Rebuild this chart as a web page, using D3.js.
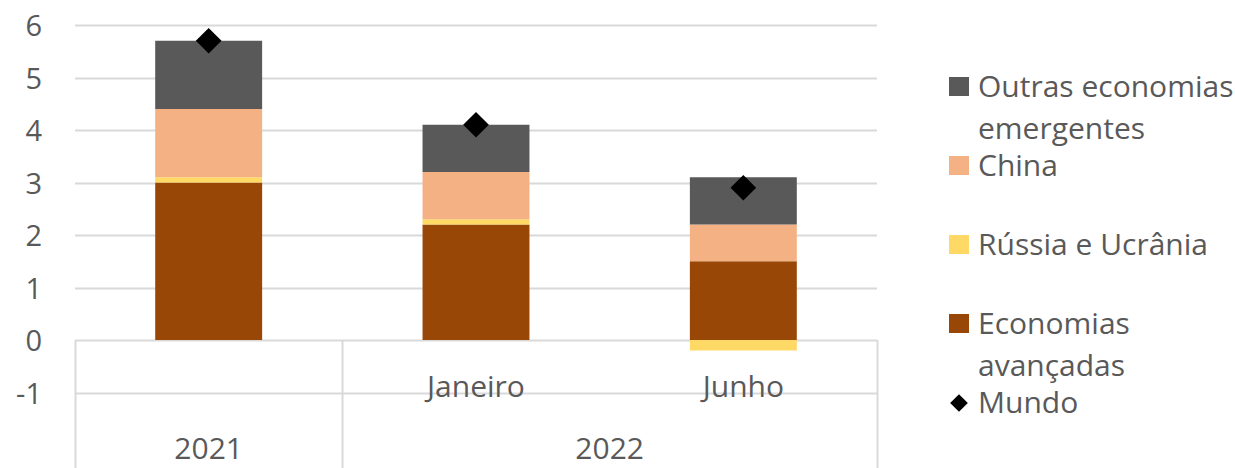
<!DOCTYPE html>
<html>
<head>
<meta charset="utf-8">
<script src="https://cdn.jsdelivr.net/npm/d3@7"></script>
<style>
  body { margin: 0; background: #fff; }
  svg text { font-family: "Open Sans", "Noto Sans", sans-serif; fill: #595959; }
</style>
</head>
<body>
<div id="vis"></div>
<script>
// Data
const categories = ["2021", "Janeiro", "Junho"];
const subLabels = ["", "Janeiro", "Junho"];
const years = ["2021", "2022"];
const yearSpan = [[0, 0], [1, 2]];   // which categories each year covers

const avancadas = [3.0, 2.2, 1.5];
const russia = [0.1, 0.1, -0.2];
const china = [1.3, 0.9, 0.7];
const outras = [1.3, 0.9, 0.9];
const mundo = [5.7, 4.1, 2.9];

const seriesKeys = ["avancadas", "russia", "china", "outras"];
const seriesColors = ["#994706", "#FFD966", "#F4B183", "#595959"];
const yTicks = [-1, 0, 1, 2, 3, 4, 5, 6];

// legend goes top to bottom
const legendItems = [
  { lines: ["Outras economias", "emergentes"], color: "#595959", shape: "rect" },
  { lines: ["China"], color: "#F4B183", shape: "rect" },
  { lines: ["Rússia e Ucrânia"], color: "#FFD966", shape: "rect" },
  { lines: ["Economias", "avançadas"], color: "#994706", shape: "rect" },
  { lines: ["Mundo"], color: "#000", shape: "diamond" }
];

const width = 1235;
const height = 468;

const svg = d3.select("#vis").append("svg")
    .attr("width", width)
    .attr("height", height);

// Scales
const x = d3.scaleBand()
    .domain(categories)
    .range([75, 877])
    .paddingInner(0.6)
    .paddingOuter(0.3);

const y = d3.scaleLinear()
    .domain([-1, 6])
    .range([392.5, 25]);

const step = x.step();
const left = 75, right = 877;

// Gridlines
svg.append("g")
    .selectAll("line")
    .data(yTicks)
    .enter().append("line")
    .attr("x1", left)
    .attr("x2", right)
    .attr("y1", d => Math.round(y(d)) + 0.5)
    .attr("y2", d => Math.round(y(d)) + 0.5)
    .attr("stroke", "#d9d9d9")
    .attr("stroke-width", 2);

// Y tick labels
svg.append("g")
    .selectAll("text")
    .data(yTicks)
    .enter().append("text")
    .attr("x", 42)
    .attr("y", d => y(d) + 11)
    .attr("text-anchor", "end")
    .style("font-size", "29px")
    .text(d => d);

// Category axis separators (multi-level)
const sepX = [left, left + step * 1, right];
svg.append("g")
    .selectAll("line")
    .data(sepX)
    .enter().append("line")
    .attr("x1", d => Math.round(d) + 0.5)
    .attr("x2", d => Math.round(d) + 0.5)
    .attr("y1", y(0))
    .attr("y2", height)
    .attr("stroke", "#d9d9d9")
    .attr("stroke-width", 2);

// Stacked bars
const tableData = categories.map((c, i) => ({
  cat: c,
  avancadas: avancadas[i],
  russia: russia[i],
  china: china[i],
  outras: outras[i]
}));

const stack = d3.stack()
    .keys(seriesKeys)
    .offset(d3.stackOffsetDiverging);

const stacked = stack(tableData);

svg.append("g")
    .selectAll("g")
    .data(stacked)
    .enter().append("g")
    .attr("fill", (d, i) => seriesColors[i])
    .selectAll("rect")
    .data(d => d)
    .enter().append("rect")
    .attr("x", d => x(d.data.cat))
    .attr("width", x.bandwidth())
    .attr("y", d => y(Math.max(d[0], d[1])))
    .attr("height", d => Math.abs(y(d[0]) - y(d[1])));

// Mundo diamonds
const diamond = d3.symbol().type(d3.symbolDiamond2).size(420);
svg.append("g")
    .selectAll("path")
    .data(mundo)
    .enter().append("path")
    .attr("d", diamond)
    .attr("transform", (d, i) => "translate(" + (x(categories[i]) + x.bandwidth() / 2) + "," + y(d) + ")")
    .attr("fill", "#000");

// Category labels, level 1
svg.append("g")
    .selectAll("text")
    .data(subLabels)
    .enter().append("text")
    .attr("x", (d, i) => x(categories[i]) + x.bandwidth() / 2)
    .attr("y", 397)
    .attr("text-anchor", "middle")
    .style("font-size", "30px")
    .text(d => d);

// Category labels, level 2 (years)
svg.append("g")
    .selectAll("text")
    .data(years)
    .enter().append("text")
    .attr("x", (d, i) => {
      const a = left + step * yearSpan[i][0];
      const b = left + step * (yearSpan[i][1] + 1);
      return (a + b) / 2;
    })
    .attr("y", 459)
    .attr("text-anchor", "middle")
    .style("font-size", "30px")
    .text(d => d);

// Legend
const legend = svg.append("g").attr("transform", "translate(949,0)");
const item = legend.selectAll("g")
    .data(legendItems)
    .enter().append("g")
    .attr("transform", (d, i) => "translate(0," + (77 + 79 * i) + ")");

item.filter(d => d.shape === "rect").append("rect")
    .attr("width", 20)
    .attr("height", 19)
    .attr("fill", d => d.color);

item.filter(d => d.shape === "diamond").append("path")
    .attr("d", d3.symbol().type(d3.symbolDiamond2).size(200))
    .attr("transform", "translate(10,10)")
    .attr("fill", d => d.color);

item.append("text")
    .attr("x", 29)
    .attr("y", 20)
    .style("font-size", "30px")
    .selectAll("tspan")
    .data(d => d.lines)
    .enter().append("tspan")
    .attr("x", 29)
    .attr("dy", (d, i) => i === 0 ? 0 : 42)
    .text(d => d);
</script>
</body>
</html>
